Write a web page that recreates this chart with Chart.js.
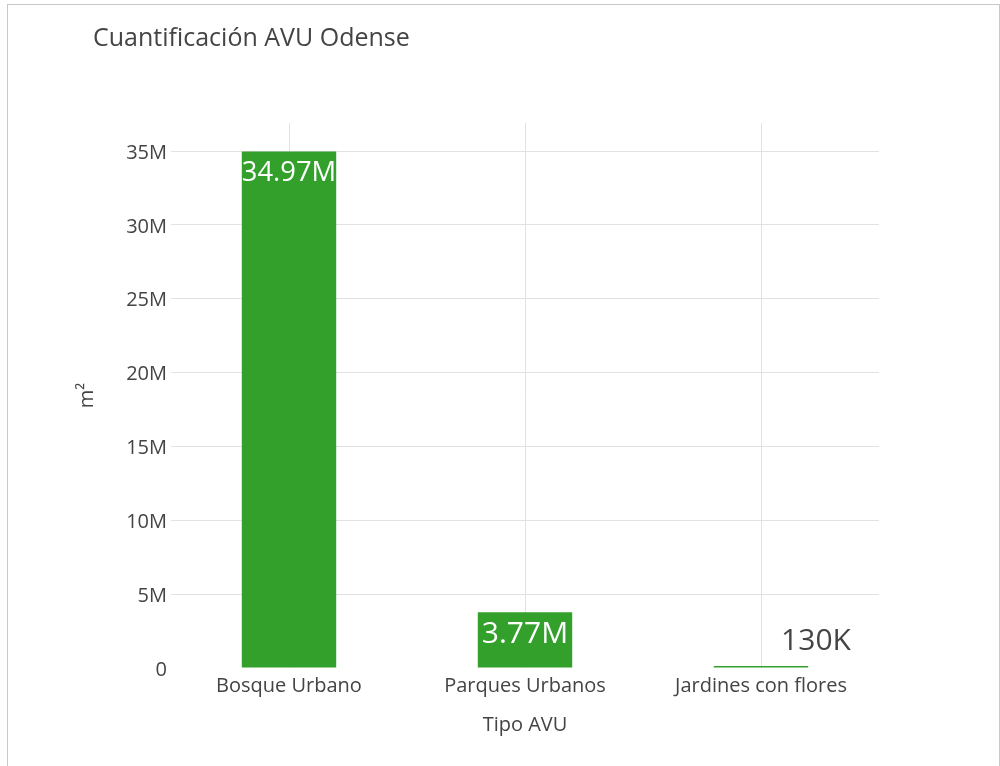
<!DOCTYPE html>
<html>
<head>
<meta charset="utf-8">
<script src="https://cdn.jsdelivr.net/npm/chart.js@4"></script>
<style>
  html, body { margin: 0; padding: 0; background: #fff; overflow: hidden; }
  #frame { position: absolute; left: 7px; top: 4px; width: 991px; height: 800px; border: 1px solid #c8c8c8; }
  #wrap { position: absolute; left: 0; top: 0; width: 1000px; height: 766px; }
</style>
</head>
<body>
<div id="frame"></div>
<div id="wrap"><canvas id="avuChart"></canvas></div>
<script>
const categories = ['Bosque Urbano', 'Parques Urbanos', 'Jardines con flores'];
const areaValues = [34970000, 3770000, 130000];
const barLabels = ['34.97M', '3.77M', '130K'];
const yTicks = [0, 5000000, 10000000, 15000000, 20000000, 25000000, 30000000, 35000000];

const barColor = '#33a02c';
const textGray = '#444';
const gridGray = '#e2e2e2';

const fmtTick = (v) => (v === 0 ? '0' : (v / 1e6) + 'M');

// bar value labels, inside at top when they fit, otherwise above the bar
const valueLabels = {
  id: 'valueLabels',
  afterDatasetsDraw: (chart) => {
    const ctx = chart.ctx;
    const meta = chart.getDatasetMeta(0);
    meta.data.forEach((bar, i) => {
      const text = barLabels[i];
      const h = bar.base - bar.y;
      ctx.save();
      ctx.textBaseline = 'middle';
      ctx.textAlign = 'center';
      let size = 30;
      ctx.font = `${size}px "Open Sans"`;
      if (h > 30) {
        const w = ctx.measureText(text).width;
        if (w > bar.width) {
          size = size * bar.width / w;
          ctx.font = `${size}px "Open Sans"`;
        }
        ctx.fillStyle = '#fff';
        ctx.fillText(text, bar.x, bar.y + 22);
      } else {
        ctx.fillStyle = textGray;
        ctx.fillText(text, bar.x + 55, bar.y - 25);
      }
      ctx.restore();
    });
  }
};

new Chart(document.getElementById('avuChart'), {
  type: 'bar',
  data: {
    labels: categories,
    datasets: [{
      data: areaValues,
      backgroundColor: barColor,
      borderWidth: 0,
      barPercentage: 0.4,
      categoryPercentage: 1.0
    }]
  },
  options: {
    responsive: true,
    maintainAspectRatio: false,
    animation: false,
    layout: { padding: { left: 93, right: 121, top: 0, bottom: 0 } },
    plugins: {
      legend: { display: false },
      tooltip: { enabled: false },
      title: {
        display: true,
        text: 'Cuantificación AVU Odense',
        align: 'start',
        color: textGray,
        font: { family: 'Open Sans', size: 25, weight: 'normal' },
        padding: { top: 24, bottom: 69 }
      }
    },
    scales: {
      x: {
        grid: { color: gridGray, offset: false, drawTicks: false },
        border: { display: false },
        ticks: { color: textGray, padding: 6, font: { family: 'Open Sans', size: 20 } },
        title: {
          display: true,
          text: 'Tipo AVU',
          color: textGray,
          font: { family: 'Open Sans', size: 20 },
          padding: { top: 0, bottom: 29 }
        },
        afterFit: (scale) => { scale.height = 98; }
      },
      y: {
        min: 0,
        max: 36900000,
        grid: {
          color: (c) => (c.tick && c.tick.value === 0 ? 'rgba(0,0,0,0)' : gridGray),
          drawTicks: false
        },
        border: { display: false },
        afterBuildTicks: (scale) => { scale.ticks = yTicks.map((v) => ({ value: v })); },
        ticks: {
          padding: 4,
          labelOffset: 2,
          color: textGray,
          font: { family: 'Open Sans', size: 20 },
          callback: (v) => fmtTick(v)
        },
        title: {
          display: true,
          text: 'm²',
          color: textGray,
          font: { family: 'Open Sans', size: 20 },
          padding: { top: -18, bottom: 0 }
        },
        afterFit: (scale) => { scale.width = 78; }
      }
    }
  },
  plugins: [valueLabels]
});
</script>
</body>
</html>
